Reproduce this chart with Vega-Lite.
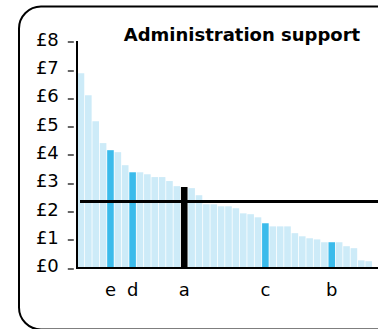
{
  "$schema": "https://vega.github.io/schema/vega-lite/v6.json",
  "autosize": {"type": "none"},
  "width": 379,
  "height": 323,
  "padding": {"left": 19, "top": 6.5, "right": -20, "bottom": -0.5},
  "background": "white",
  "config": {"view": {"stroke": "black", "strokeWidth": 2, "cornerRadius": 22, "fill": "white"}, "font": "DejaVu Sans"},
  "title": {"text": "Administration support", "font": "DejaVu Sans", "fontSize": 18, "fontWeight": "bold", "color": "black", "anchor": "middle", "dx": 33.5, "offset": -52, "baseline": "alphabetic", "frame": "group"},
  "data": {"values": [
    {"i": 1, "value": 6.89, "group": "other", "label": ""},
    {"i": 2, "value": 6.11, "group": "other", "label": ""},
    {"i": 3, "value": 5.19, "group": "other", "label": ""},
    {"i": 4, "value": 4.42, "group": "other", "label": ""},
    {"i": 5, "value": 4.17, "group": "highlight", "label": "e"},
    {"i": 6, "value": 4.10, "group": "other", "label": ""},
    {"i": 7, "value": 3.64, "group": "other", "label": ""},
    {"i": 8, "value": 3.39, "group": "highlight", "label": "d"},
    {"i": 9, "value": 3.39, "group": "other", "label": ""},
    {"i": 10, "value": 3.32, "group": "other", "label": ""},
    {"i": 11, "value": 3.22, "group": "other", "label": ""},
    {"i": 12, "value": 3.22, "group": "other", "label": ""},
    {"i": 13, "value": 3.08, "group": "other", "label": ""},
    {"i": 14, "value": 2.90, "group": "other", "label": ""},
    {"i": 15, "value": 2.87, "group": "selected", "label": "a"},
    {"i": 16, "value": 2.83, "group": "other", "label": ""},
    {"i": 17, "value": 2.58, "group": "other", "label": ""},
    {"i": 18, "value": 2.26, "group": "other", "label": ""},
    {"i": 19, "value": 2.26, "group": "other", "label": ""},
    {"i": 20, "value": 2.19, "group": "other", "label": ""},
    {"i": 21, "value": 2.19, "group": "other", "label": ""},
    {"i": 22, "value": 2.12, "group": "other", "label": ""},
    {"i": 23, "value": 1.94, "group": "other", "label": ""},
    {"i": 24, "value": 1.91, "group": "other", "label": ""},
    {"i": 25, "value": 1.80, "group": "other", "label": ""},
    {"i": 26, "value": 1.59, "group": "highlight", "label": "c"},
    {"i": 27, "value": 1.48, "group": "other", "label": ""},
    {"i": 28, "value": 1.48, "group": "other", "label": ""},
    {"i": 29, "value": 1.48, "group": "other", "label": ""},
    {"i": 30, "value": 1.24, "group": "other", "label": ""},
    {"i": 31, "value": 1.13, "group": "other", "label": ""},
    {"i": 32, "value": 1.06, "group": "other", "label": ""},
    {"i": 33, "value": 1.02, "group": "other", "label": ""},
    {"i": 34, "value": 0.92, "group": "other", "label": ""},
    {"i": 35, "value": 0.92, "group": "highlight", "label": "b"},
    {"i": 36, "value": 0.92, "group": "other", "label": ""},
    {"i": 37, "value": 0.78, "group": "other", "label": ""},
    {"i": 38, "value": 0.71, "group": "other", "label": ""},
    {"i": 39, "value": 0.28, "group": "other", "label": ""},
    {"i": 40, "value": 0.25, "group": "other", "label": ""}
  ]},
  "layer": [
    {
      "mark": {"type": "bar", "width": 6.6},
      "encoding": {
        "x": {"field": "i", "type": "quantitative", "scale": {"domain": [-6.721, 43.3], "nice": false, "zero": false}, "axis": null},
        "y": {"field": "value", "type": "quantitative", "scale": {"domain": [-2.161, 9.243], "nice": false, "zero": false},
          "axis": {"values": [0, 1, 2, 3, 4, 5, 6, 7, 8], "labelExpr": "'£' + datum.value", "domain": false, "grid": false, "offset": -54.3, "tickSize": 6, "tickColor": "#333333", "tickWidth": 1.5, "labelFontSize": 18, "labelFont": "DejaVu Sans", "labelColor": "black", "labelPadding": 9, "labelOffset": -1.5, "title": null}},
        "y2": {"datum": 0},
        "color": {"field": "group", "type": "nominal", "scale": {"domain": ["other", "highlight", "selected"], "range": ["#cdebf8", "#3bbbeb", "#000000"]}, "legend": null}
      }
    },
    {
      "mark": {"type": "rule", "strokeWidth": 1.5, "color": "black"},
      "encoding": {"x": {"datum": 0.446, "type": "quantitative"}, "y": {"datum": 0, "type": "quantitative"}, "y2": {"datum": 8}}
    },
    {
      "mark": {"type": "rule", "strokeWidth": 1.5, "color": "black"},
      "encoding": {"y": {"datum": 0, "type": "quantitative"}, "x": {"datum": 0.446, "type": "quantitative"}, "x2": {"datum": 44}}
    },
    {
      "mark": {"type": "rule", "strokeWidth": 2.4, "color": "black"},
      "encoding": {"y": {"datum": 2.37, "type": "quantitative"}, "x": {"datum": 0.9, "type": "quantitative"}, "x2": {"datum": 44}}
    },
    {
      "transform": [{"filter": "datum.label != ''"}],
      "mark": {"type": "text", "fontSize": 18, "font": "DejaVu Sans", "baseline": "alphabetic", "align": "center", "color": "black"},
      "encoding": {"x": {"field": "i", "type": "quantitative"}, "y": {"datum": -0.978, "type": "quantitative"}, "text": {"field": "label"}}
    }
  ]
}
